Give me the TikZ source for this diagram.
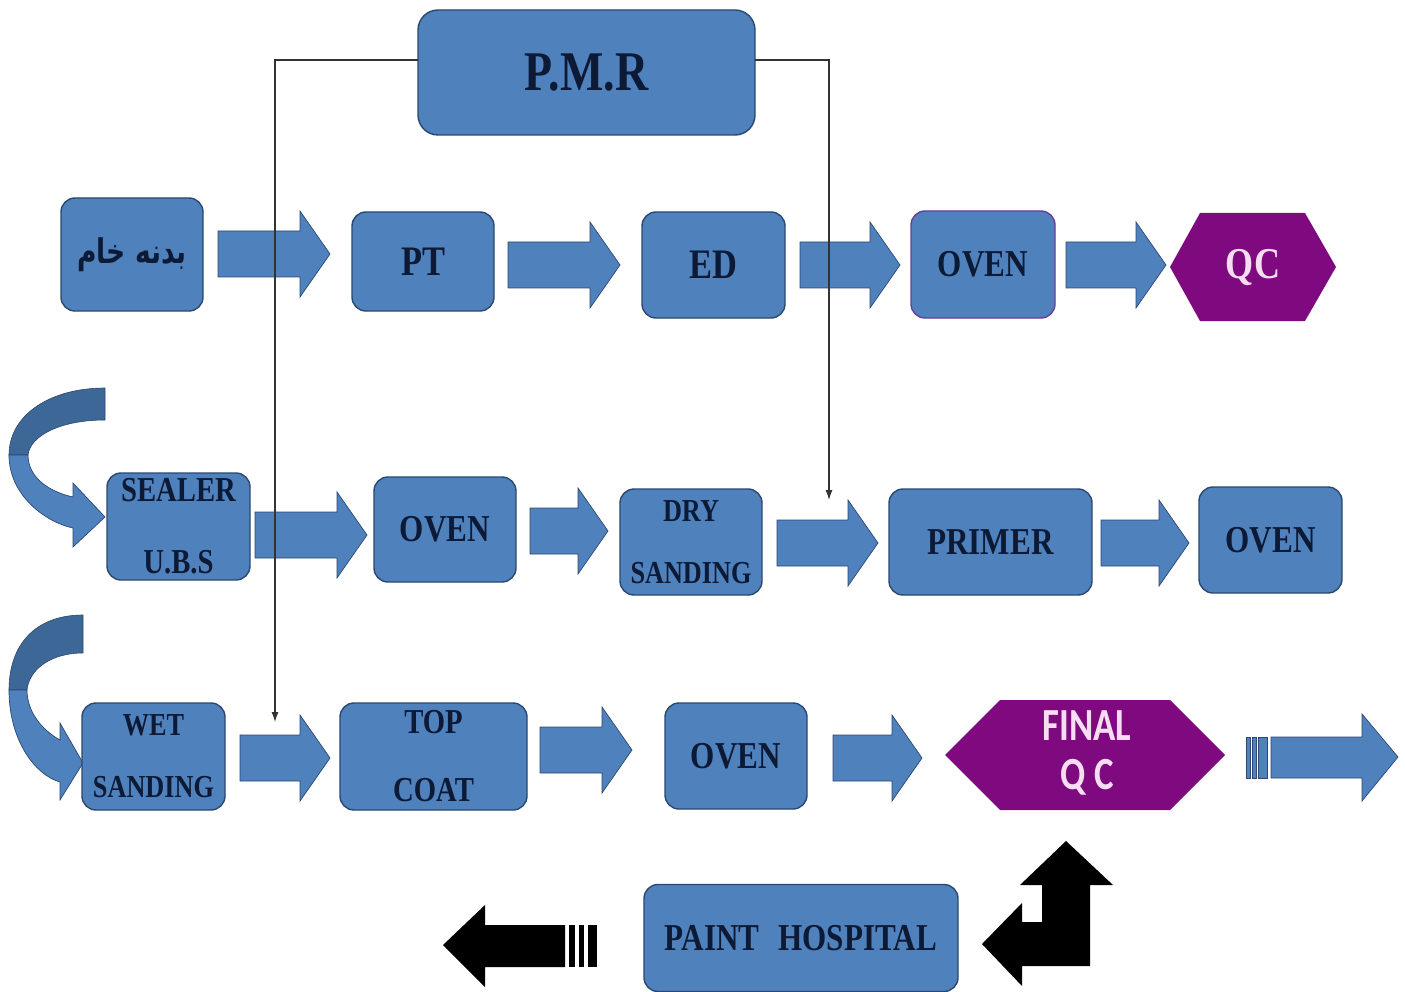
\documentclass[tikz,border=0pt]{standalone}
\usepackage{fontspec}
\setmainfont{Liberation Serif}[FakeStretch=0.82]
\newfontfamily\qcfont{Carlito}[FakeStretch=0.8]
\newfontfamily\farsifont[Script=Arabic, FakeStretch=0.78]{DejaVu Sans}
\TeXXeTstate=1
\usetikzlibrary{arrows.meta}

\definecolor{boxblue}{HTML}{4F81BD}
\definecolor{boxline}{HTML}{2B4870}
\definecolor{backblue}{HTML}{3D6797}
\definecolor{ink}{HTML}{0D1A36}
\definecolor{qcpurple}{HTML}{7F0A80}
\definecolor{qctext}{HTML}{F6DDF2}
\definecolor{ovenrim}{HTML}{6A3C9C}

% fat block arrow: start x, tip x, centre y
\newcommand\blockarrow[3]{%
  \filldraw[barrow] (#1,#3-23) -- (#2-30,#3-23) -- (#2-30,#3-43) -- (#2,#3)
    -- (#2-30,#3+43) -- (#2-30,#3+23) -- (#1,#3+23) -- cycle;}

\begin{document}
\begin{tikzpicture}[x=1pt,y=-1pt,
  box/.style={draw=boxline, line width=1.4pt, fill=boxblue, rounded corners=14pt,
    inner sep=0pt, text=ink, align=center},
  f38/.style={font=\bfseries\fontsize{38}{40}\selectfont},
  barrow/.style={fill=boxblue, draw=boxline, line width=0.7pt},
  feed/.style={draw=black!80, line width=1.1pt, -{Latex[length=10pt,width=7pt]}},
  blackarrow/.style={fill=black},
  hexqc/.style={fill=qcpurple}]

\fill[white] (0,0) rectangle (1405,992);
\useasboundingbox (0,0) rectangle (1405,992);

% ---- top: P.M.R
\node[box, rounded corners=20pt, minimum width=337, minimum height=125,
  font=\bfseries\fontsize{56}{60}\selectfont] (pmr) at (586.5,72.5) {P.M.R};

% ---- row 1
\node[box, minimum width=142, minimum height=113,
  font=\farsifont\bfseries\fontsize{34}{38}\selectfont] (body) at (132,254.5)
  {\beginR بدنه خام\endR};
\node[box, font=\bfseries\fontsize{42}{44}\selectfont,
  minimum width=142, minimum height=99] (pt) at (423,261.5) {PT};
\node[box, font=\bfseries\fontsize{42}{44}\selectfont,
  minimum width=143, minimum height=106] (ed) at (713.5,265) {ED};
\node[box, f38, draw=ovenrim, minimum width=144, minimum height=107] (oven1)
  at (983,264.5) {OVEN};

\blockarrow{218}{330}{254}
\blockarrow{508}{620}{265}
\blockarrow{800}{900}{265}
\blockarrow{1066}{1166}{265}

\fill[hexqc] (1170,267) -- (1200,213) -- (1305,213) -- (1336,267)
  -- (1305,321) -- (1200,321) -- cycle;
\node[text=qctext, font=\bfseries\fontsize{44}{46}\selectfont] (qc)
  at (1253,268) {QC};

% ---- row 2
\fill[backblue, draw=boxline, line width=0.6pt] (105,388)
  .. controls (50,388) and (9,415) .. (9,455) -- (28,455)
  .. controls (30,436) and (60,420) .. (105,420) -- cycle;
\filldraw[barrow] (9,455) .. controls (9,495) and (45,522) .. (73,528)
  -- (73,547) -- (105,517) -- (73,483) -- (73,497)
  .. controls (50,492) and (28,478) .. (28,455) -- cycle;

\node[box, font=\bfseries\fontsize{35}{72}\selectfont,
  minimum width=143, minimum height=107] (sealer) at (178.5,526.5)
  {SEALER\\U.B.S};
\node[box, f38, minimum width=142, minimum height=105] (oven2)
  at (445,529.5) {OVEN};
\node[box, font=\bfseries\fontsize{32}{62}\selectfont,
  minimum width=142, minimum height=106] (dry) at (691,542)
  {DRY\\SANDING};
\node[box, f38, minimum width=203, minimum height=106] (primer)
  at (990.5,542) {PRIMER};
\node[box, f38, minimum width=143, minimum height=106] (oven3)
  at (1270.5,540) {OVEN};

\blockarrow{255}{367}{535}
\blockarrow{530}{608}{531}
\blockarrow{777}{878}{543}
\blockarrow{1101}{1189}{543}

% ---- row 3
\fill[backblue, draw=boxline, line width=0.6pt] (83,615)
  .. controls (35,615) and (9,645) .. (9,690) -- (27,690)
  .. controls (29,670) and (50,653) .. (83,653) -- cycle;
\filldraw[barrow] (9,690) .. controls (9,740) and (35,775) .. (60,782)
  -- (60,800) -- (83,763) -- (60,723) -- (60,740)
  .. controls (42,730) and (27,712) .. (27,690) -- cycle;

\node[box, font=\bfseries\fontsize{32}{62}\selectfont,
  minimum width=143, minimum height=107] (wet) at (153.5,756.5)
  {WET\\SANDING};
\node[box, font=\bfseries\fontsize{35}{68}\selectfont,
  minimum width=187, minimum height=107] (top) at (433.5,756.5)
  {TOP\\COAT};
\node[box, f38, minimum width=142, minimum height=106] (oven4)
  at (736,756) {OVEN};

\blockarrow{240}{330}{758}
\blockarrow{540}{632}{750}
\blockarrow{833}{922}{758}

\fill[hexqc] (945,755) -- (1000,700) -- (1170,700) -- (1225,755)
  -- (1170,810) -- (1000,810) -- cycle;
\node[text=qctext, align=center, font=\qcfont\bfseries\fontsize{46}{49}\selectfont]
  (finalqc) at (1087,753) {FINAL\\Q C};

% striped exit arrow
\filldraw[barrow] (1246,737) rectangle (1250,778);
\filldraw[barrow] (1252,737) rectangle (1256,778);
\filldraw[barrow] (1258,737) rectangle (1267,778);
\filldraw[barrow] (1271,737) -- (1362,737) -- (1362,714) -- (1398,757)
  -- (1362,801) -- (1362,778) -- (1271,778) -- cycle;

% ---- bottom: paint hospital
\node[box, f38, minimum width=314, minimum height=107] (hospital)
  at (801,938) {PAINT\enspace HOSPITAL};

\fill[blackarrow] (443,945) -- (485,905) -- (485,925) -- (565,925)
  -- (565,967) -- (485,967) -- (485,987) -- cycle;
\fill[blackarrow] (569,925) rectangle (575,967);
\fill[blackarrow] (579,925) rectangle (584,967);
\fill[blackarrow] (588,925) rectangle (597,967);

\fill[blackarrow] (982,944) -- (1022,903) -- (1022,922) -- (1042,922)
  -- (1042,885) -- (1020,885) -- (1066,841) -- (1113,885) -- (1090,885)
  -- (1090,966) -- (1022,966) -- (1022,986) -- cycle;

% ---- P.M.R feed lines
\coordinate (pmrL) at (418,60);
\coordinate (pmrR) at (755,60);
\coordinate (dropL) at (275,722);
\coordinate (dropR) at (829,500);
\draw[feed] (pmrL) -| (dropL);
\draw[feed] (pmrR) -| (dropR);

\end{tikzpicture}
\end{document}
